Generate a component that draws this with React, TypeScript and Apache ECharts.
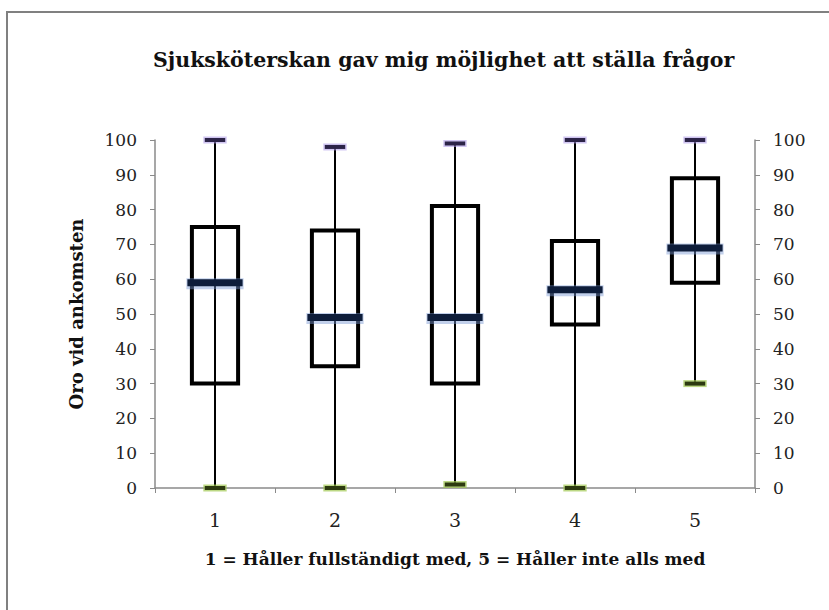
import React, { useEffect, useRef } from "react";
import * as echarts from "echarts";

const titleText = "Sjuksköterskan gav mig möjlighet att ställa frågor";
const xAxisTitle = "1 = Håller fullständigt med, 5 = Håller inte alls med";
const yAxisTitle = "Oro vid ankomsten";
const categories = ["1", "2", "3", "4", "5"];
const minValues = [0, 0, 1, 0, 30];
const q1Values = [30, 35, 30, 47, 59];
const medianValues = [59, 49, 49, 57, 69];
const q3Values = [75, 74, 81, 71, 89];
const maxValues = [100, 98, 99, 100, 100];

const FONT = "DejaVu Serif";

export default function App() {
  const ref = useRef<HTMLDivElement>(null);
  useEffect(() => {
    if (!ref.current) return;
    const chart = echarts.init(ref.current, null, { renderer: "svg" });
    const data = categories.map((_, i) => [
      i,
      minValues[i],
      q1Values[i],
      medianValues[i],
      q3Values[i],
      maxValues[i],
    ]);
    const yAxisBase = {
      type: "value",
      min: 0,
      max: 100,
      interval: 10,
      splitLine: { show: false },
      axisLine: { show: true, lineStyle: { color: "#8a8a8a", width: 1.5 } },
      axisTick: { show: true, length: 5, lineStyle: { color: "#8a8a8a" } },
      axisLabel: { color: "#222", fontFamily: FONT, fontSize: 17, margin: 18 },
    };
    const bar = (cx: number, cy: number, w: number, h: number, fill: string) => ({
      type: "rect",
      shape: { x: cx - w / 2, y: cy - h / 2, width: w, height: h },
      style: { fill },
    });
    chart.setOption({
      animation: false,
      backgroundColor: "#ffffff",
      title: {
        text: titleText,
        left: 148,
        top: 44,
        textStyle: { fontFamily: FONT, fontWeight: "bold", fontSize: 20.5, color: "#111" },
      },
      graphic: [
        {
          type: "rect",
          shape: { x: 7, y: 12, width: 840, height: 620 },
          style: { fill: "none", stroke: "#808080", lineWidth: 2 },
          silent: true,
          z: -10,
        },
      ],
      grid: { left: 155, right: 74, top: 140, bottom: 122, containLabel: false },
      xAxis: {
        type: "category",
        data: categories,
        boundaryGap: true,
        name: xAxisTitle,
        nameLocation: "middle",
        nameGap: 62,
        nameTextStyle: { fontFamily: FONT, fontWeight: "bold", fontSize: 17, color: "#111" },
        axisLine: { show: true, lineStyle: { color: "#8a8a8a", width: 1.5 } },
        axisTick: { show: true, alignWithLabel: false, length: 5, lineStyle: { color: "#8a8a8a" } },
        axisLabel: { color: "#222", fontFamily: FONT, fontSize: 19, margin: 22 },
      },
      yAxis: [
        {
          ...yAxisBase,
          position: "left",
          name: yAxisTitle,
          nameLocation: "middle",
          nameGap: 70,
          nameRotate: 90,
          nameTextStyle: { fontFamily: FONT, fontWeight: "bold", fontSize: 18, color: "#111" },
        },
        { ...yAxisBase, position: "right" },
      ],
      series: [
        {
          type: "custom",
          xAxisIndex: 0,
          yAxisIndex: 0,
          encode: { x: 0, y: [1, 2, 3, 4, 5] },
          data,
          renderItem: (params: any, api: any) => {
            const x = api.value(0);
            const pMin = api.coord([x, api.value(1)]);
            const pQ1 = api.coord([x, api.value(2)]);
            const pMed = api.coord([x, api.value(3)]);
            const pQ3 = api.coord([x, api.value(4)]);
            const pMax = api.coord([x, api.value(5)]);
            const band = api.size([1, 0])[0];
            const boxW = band * 0.385;
            const medW = band * 0.46;
            const markW = band * 0.17;
            const cx = pMed[0];
            return {
              type: "group",
              children: [
                {
                  type: "line",
                  shape: { x1: cx, y1: pMin[1], x2: cx, y2: pMax[1] },
                  style: { stroke: "#000", lineWidth: 2 },
                },
                {
                  type: "rect",
                  shape: { x: cx - boxW / 2, y: pQ3[1], width: boxW, height: pQ1[1] - pQ3[1] },
                  style: { fill: "none", stroke: "#000", lineWidth: 4 },
                },
                bar(cx, pMed[1] + 1, medW + 2, 11, "rgba(120,150,210,0.45)"),
                bar(cx, pMed[1], medW, 7, "#0e1d3a"),
                bar(cx, pMax[1], markW + 3, 7, "rgba(170,150,230,0.55)"),
                bar(cx, pMax[1], markW, 4, "#2c2448"),
                bar(cx, pMin[1], markW + 3, 7, "rgba(160,200,80,0.7)"),
                bar(cx, pMin[1], markW, 4, "#2d3a10"),
              ],
            };
          },
          z: 5,
        },
      ],
    });
    return () => chart.dispose();
  }, []);
  return (
    <div
      ref={ref}
      style={{ position: "fixed", left: 0, top: 0, width: 829, height: 610, background: "#fff" }}
    />
  );
}
